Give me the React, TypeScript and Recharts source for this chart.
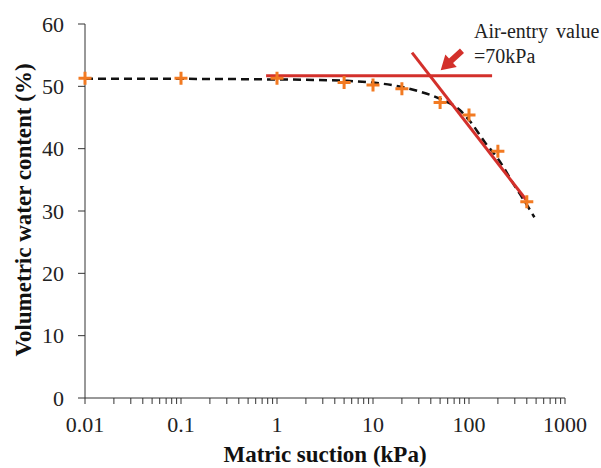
import React from "react";
import {
  ComposedChart,
  XAxis,
  YAxis,
  Line,
  Scatter,
  ReferenceLine,
} from "recharts";

// ---- data ----
const measuredSuction = [0.01, 0.1, 1, 5, 10, 20, 50, 100, 200, 400];
const measuredWater = [51.3, 51.3, 51.3, 50.6, 50.2, 49.6, 47.4, 45.4, 39.6, 31.5];

const fitSuction = [0.01, 0.1, 1, 2, 5, 10, 20, 30, 50, 80, 100, 150, 200, 300, 400, 480];
const fitWater = [51.2, 51.2, 51.1, 51.05, 50.9, 50.6, 49.9, 49.2, 48.0, 46.2, 44.6, 40.8, 38.4, 34.0, 31.0, 29.0];

const horizSuction = [0.77, 174];
const horizWater = [51.7, 51.7];

const slopeSuction = [25.5, 393];
const slopeWater = [55.4, 31.8];

const arrowSuction = [84.5, 50.7];
const arrowWater = [55.7, 52.6];

const xMajorTicks = [0.01, 0.1, 1, 10, 100, 1000];
const yTicks = [0, 10, 20, 30, 40, 50, 60];

const xTitle = "Matric suction (kPa)";
const yTitle = "Volumetric water content (%)";
const annotationLine1 = "Air-entry value";
const annotationLine2 = "=70kPa";

// ---- derived tables ----
const measured = measuredSuction.map((x, i) => ({ x, y: measuredWater[i] }));
const fit = fitSuction.map((x, i) => ({ x, y: fitWater[i] }));
const horiz = horizSuction.map((x, i) => ({ x, y: horizWater[i] }));
const slope = slopeSuction.map((x, i) => ({ x, y: slopeWater[i] }));
const xMinorTicks = xMajorTicks.slice(0, -1).flatMap((d) =>
  [2, 3, 4, 5, 6, 7, 8, 9].map((m) => parseFloat((d * m).toPrecision(3)))
);
const xAllTicks = [...xMajorTicks, ...xMinorTicks].sort((a, b) => a - b);

const FONT = "'Liberation Serif', 'Times New Roman', serif";
const ORANGE = "#F27A22";
const RED = "#D3302B";

const isMajor = (v: number) => xMajorTicks.some((t) => Math.abs(t - v) / t < 1e-6);

const XTick = (props: any) => {
  const { x, y, payload } = props;
  if (!isMajor(payload.value)) return null;
  return (
    <text
      x={x}
      y={y + 26}
      textAnchor="middle"
      fontFamily={FONT}
      fontSize={22}
      fill="#222"
    >
      {String(payload.value)}
    </text>
  );
};

const YTick = (props: any) => {
  const { x, y, payload } = props;
  return (
    <text
      x={x - 12}
      y={y + 7.5}
      textAnchor="end"
      fontFamily={FONT}
      fontSize={22}
      fill="#222"
    >
      {payload.value}
    </text>
  );
};

const Cross = (props: any) => {
  const { cx, cy } = props;
  if (cx == null || cy == null) return null;
  const s = 6.5;
  return (
    <path
      d={`M${cx - s},${cy}H${cx + s}M${cx},${cy - s}V${cy + s}`}
      stroke={ORANGE}
      strokeWidth={3}
      fill="none"
    />
  );
};

const ArrowShape = (props: any) => {
  const { x1, y1, x2, y2 } = props;
  if ([x1, y1, x2, y2].some((v) => v == null || isNaN(v))) return null;
  const dx = x2 - x1;
  const dy = y2 - y1;
  const L = Math.sqrt(dx * dx + dy * dy);
  const ux = dx / L;
  const uy = dy / L;
  const nx = -uy;
  const ny = ux;
  const shaft = 3;
  const headLen = 14;
  const headW = 8.5;
  const bx = x2 - ux * headLen;
  const by = y2 - uy * headLen;
  const pts = [
    [x1 + nx * shaft, y1 + ny * shaft],
    [bx + nx * shaft, by + ny * shaft],
    [bx + nx * headW, by + ny * headW],
    [x2, y2],
    [bx - nx * headW, by - ny * headW],
    [bx - nx * shaft, by - ny * shaft],
    [x1 - nx * shaft, y1 - ny * shaft],
  ]
    .map((p) => p.join(","))
    .join(" ");
  return <polygon points={pts} fill={RED} />;
};

export default function App() {
  return (
    <div
      style={{
        position: "absolute",
        left: 0,
        top: 0,
        width: 601,
        height: 468,
        background: "#fff",
      }}
    >
      <ComposedChart
        width={601}
        height={468}
        margin={{ top: 24, right: 36, bottom: 40, left: 0 }}
      >
        <XAxis
          type="number"
          dataKey="x"
          scale="log"
          domain={[0.01, 1000]}
          ticks={xAllTicks}
          interval={0}
          height={30}
          tick={<XTick />}
          tickSize={6}
          stroke="#333"
          tickLine={{ stroke: "#333" }}
        />
        <YAxis
          type="number"
          dataKey="y"
          domain={[0, 60]}
          ticks={yTicks}
          interval={0}
          width={85}
          tick={<YTick />}
          tickSize={7}
          stroke="#333"
          tickLine={{ stroke: "#333" }}
        />
        <Line
          data={fit}
          dataKey="y"
          type="monotone"
          stroke="#111"
          strokeWidth={2.5}
          strokeDasharray="8 5"
          dot={false}
          activeDot={false}
          isAnimationActive={false}
        />
        <Line
          data={horiz}
          dataKey="y"
          type="linear"
          stroke={RED}
          strokeWidth={3}
          dot={false}
          activeDot={false}
          isAnimationActive={false}
        />
        <Line
          data={slope}
          dataKey="y"
          type="linear"
          stroke={RED}
          strokeWidth={3}
          dot={false}
          activeDot={false}
          isAnimationActive={false}
        />
        <Scatter
          data={measured}
          dataKey="y"
          shape={<Cross />}
          isAnimationActive={false}
        />
        <ReferenceLine
          segment={[
            { x: arrowSuction[0], y: arrowWater[0] },
            { x: arrowSuction[1], y: arrowWater[1] },
          ]}
          ifOverflow="visible"
          shape={ArrowShape}
        />
      </ComposedChart>
      <svg
        width={601}
        height={468}
        style={{ position: "absolute", left: 0, top: 0, pointerEvents: "none" }}
      >
        <text
          x={474}
          y={38}
          fontFamily={FONT}
          fontSize={20}
          fill="#222"
          wordSpacing={3}
        >
          {annotationLine1}
        </text>
        <text x={474} y={63} fontFamily={FONT} fontSize={20} fill="#222">
          {annotationLine2}
        </text>
        <text
          x={325}
          y={462}
          textAnchor="middle"
          fontFamily={FONT}
          fontSize={23}
          fontWeight="bold"
          fill="#111"
        >
          {xTitle}
        </text>
        <text
          x={31}
          y={210}
          textAnchor="middle"
          fontFamily={FONT}
          fontSize={23}
          fontWeight="bold"
          fill="#111"
          transform="rotate(-90 31 210)"
        >
          {yTitle}
        </text>
      </svg>
    </div>
  );
}
